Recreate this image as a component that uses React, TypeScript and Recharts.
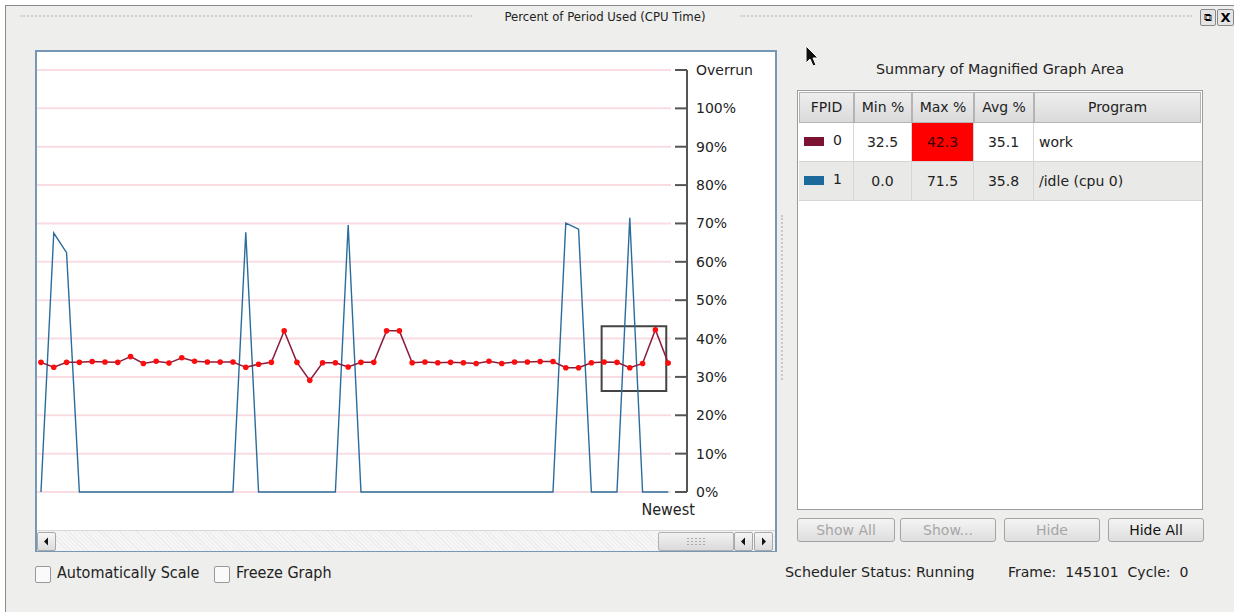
import { LineChart, Line, XAxis, YAxis, CartesianGrid, ReferenceArea } from "recharts";

// percent of period used, one sample per frame, oldest -> newest
const workPct = [
  33.8, 32.5, 33.8, 33.8, 34.0, 33.9, 33.8, 35.3, 33.5, 34.1,
  33.6, 35.0, 34.1, 33.9, 33.9, 33.9, 32.5, 33.3, 33.8, 42.0,
  33.8, 29.1, 33.7, 33.7, 32.6, 33.8, 33.8, 42.0, 42.0, 33.7,
  33.9, 33.7, 33.8, 33.7, 33.5, 34.1, 33.5, 33.9, 33.9, 34.0,
  34.0, 32.4, 32.4, 33.7, 33.9, 33.8, 32.4, 33.5, 42.3, 33.6,
];
const idlePct = [
  0, 67.5, 62.4, 0, 0, 0, 0, 0, 0, 0,
  0, 0, 0, 0, 0, 0, 67.7, 0, 0, 0,
  0, 0, 0, 0, 69.6, 0, 0, 0, 0, 0,
  0, 0, 0, 0, 0, 0, 0, 0, 0, 0,
  0, 70.1, 68.5, 0, 0, 0, 71.5, 0, 0, 0,
];
const yTicks = [0, 10, 20, 30, 40, 50, 60, 70, 80, 90, 100, 110];
const overrunTick = 110;
const newestTick = [49];
// magnified region (sample index / percent)
const magX = [43.8, 48.85];
const magY = [26.3, 43.2];

const summaryRows = [
  { fpid: "0", min: "32.5", max: "42.3", avg: "35.1", program: "work", color: "#7c1333", maxHot: true },
  { fpid: "1", min: "0.0", max: "71.5", avg: "35.8", program: "/idle (cpu 0)", color: "#1c6a9c", maxHot: false },
];
const colWidths = [55, 58, 62, 60, 167];
const headers = ["FPID", "Min %", "Max %", "Avg %", "Program"];

const data = workPct.map((w, i) => ({ idx: i, work: w, idle: idlePct[i] }));

const SANS = "'DejaVu Sans', Verdana, sans-serif";
const COND = "'DejaVu Sans Condensed', 'DejaVu Sans', sans-serif";

function PctTick(props: any) {
  const { x, y, payload } = props;
  const label = payload.value === overrunTick ? "Overrun" : `${payload.value}%`;
  return (
    <g>
      <line x1={x - 12} x2={x} y1={y} y2={y} stroke="#555" strokeWidth={2} />
      <text x={x + 9} y={y} dy="0.36em" fill="#222" fontSize={14} fontFamily={SANS} textAnchor="start">
        {label}
      </text>
    </g>
  );
}

const btn = (left: number, width: number, label: string, enabled: boolean) => (
  <div
    style={{
      position: "absolute", left, top: 518, width, height: 22,
      border: "1px solid #a4a4a4", borderRadius: 3,
      background: "linear-gradient(#f4f4f4, #dedede)",
      color: enabled ? "#111" : "#a6a6a6", fontSize: 14, fontFamily: SANS,
      textAlign: "center", lineHeight: "22px",
    }}
  >
    {label}
  </div>
);

const arrowBtn = (left: number, dir: "l" | "r") => (
  <div
    style={{
      position: "absolute", left, top: 1, width: 17, height: 17,
      border: "1px solid #a8a8a8", borderRadius: 2,
      background: "linear-gradient(#f6f6f6, #dcdcdc)",
    }}
  >
    <svg width={17} height={17} style={{ position: "absolute", left: 0, top: 0 }}>
      {dir === "l" ? <polygon points="6,8.5 10,4.5 10,12.5" fill="#111" /> : <polygon points="11,8.5 7,4.5 7,12.5" fill="#111" />}
    </svg>
  </div>
);

const cell = (w: number): any => ({ width: w, boxSizing: "border-box", flex: "none" });

export default function App() {
  return (
    <div style={{ position: "absolute", left: 0, top: 0, width: 1234, height: 612, background: "#fff", overflow: "hidden", fontFamily: SANS }}>
      {/* window */}
      <div style={{ position: "absolute", left: 5, top: 5, width: 1240, height: 620, background: "#eeeeec", borderLeft: "1px solid #8a8a8a", borderTop: "1px solid #8a8a8a" }} />
      {/* title bar */}
      <div style={{ position: "absolute", left: 20, top: 15, width: 452, height: 4, borderTop: "2px dotted #cfcfcf" }} />
      <div style={{ position: "absolute", left: 740, top: 15, width: 452, height: 4, borderTop: "2px dotted #cfcfcf" }} />
      <div style={{ position: "absolute", left: 455, top: 9, width: 300, textAlign: "center", fontSize: 13, fontFamily: COND, color: "#222" }}>
        Percent of Period Used (CPU Time)
      </div>
      <div style={{ position: "absolute", left: 1200, top: 9, width: 14, height: 15, border: "1px solid #888", borderRadius: 2, background: "#e4e4e4", fontSize: 11, textAlign: "center", lineHeight: "15px" }}>⧉</div>
      <div style={{ position: "absolute", left: 1217, top: 9, width: 15, height: 15, border: "1px solid #888", borderRadius: 2, background: "#e4e4e4", fontSize: 13, fontWeight: 700, textAlign: "center", lineHeight: "15px" }}>X</div>

      {/* graph frame */}
      <div style={{ position: "absolute", left: 35, top: 50, width: 738, height: 498, border: "2px solid #7896b6", background: "#fff" }}>
        <LineChart width={738} height={478} data={data} margin={{ top: 18, right: 0, bottom: 0, left: 0 }}>
          <CartesianGrid horizontal vertical={false} x={0} width={634} stroke="#f9dce1" strokeWidth={2} />
          <XAxis
            dataKey="idx"
            type="number"
            domain={[-0.31, 50.47]}
            allowDataOverflow
            ticks={newestTick}
            tickFormatter={() => "Newest"}
            axisLine={false}
            tickLine={false}
            tickSize={0}
            tickMargin={12}
            height={38}
            tick={{ fill: "#222", fontSize: 16, fontFamily: COND }}
          />
          <YAxis
            orientation="right"
            width={88}
            domain={[0, 110]}
            ticks={yTicks}
            interval={0}
            axisLine={{ stroke: "#555", strokeWidth: 2 }}
            tickLine={false}
            tickSize={0}
            tickMargin={0}
            tick={<PctTick />}
          />
          <Line dataKey="idle" stroke="#2a6d9c" strokeWidth={1.4} dot={false} isAnimationActive={false} />
          <Line
            dataKey="work"
            stroke="#8a1c3c"
            strokeWidth={1.5}
            dot={{ r: 2.8, fill: "#ff0d0d", stroke: "none" }}
            isAnimationActive={false}
          />
          <ReferenceArea x1={magX[0]} x2={magX[1]} y1={magY[0]} y2={magY[1]} fill="none" stroke="#444" strokeWidth={2} ifOverflow="visible" />
        </LineChart>
        {/* scrollbar */}
        <div style={{ position: "absolute", left: 0, top: 478, width: 738, height: 20, background: "repeating-linear-gradient(45deg, #ececec 0 1px, #f6f6f6 1px 3px)", borderTop: "1px solid #d8d8d8" }}>
          {arrowBtn(0, "l")}
          <div style={{ position: "absolute", left: 621, top: 1, width: 74, height: 17, border: "1px solid #b0b0b0", borderRadius: 2, background: "linear-gradient(#f2f2f2, #dadada)" }}>
            <div style={{ position: "absolute", left: 27, top: 4, width: 20, height: 9, backgroundImage: "radial-gradient(#a8a8a8 0.7px, transparent 0.8px)", backgroundSize: "4px 3px" }} />
          </div>
          {arrowBtn(697, "l")}
          {arrowBtn(717, "r")}
        </div>
      </div>

      {/* splitter grip */}
      <div style={{ position: "absolute", left: 781, top: 215, width: 1, height: 165, borderLeft: "2px dotted #c8c8c8" }} />

      {/* checkboxes */}
      <div style={{ position: "absolute", left: 35, top: 566, width: 14, height: 15, border: "1px solid #999", borderRadius: 2, background: "#fafafa" }} />
      <div style={{ position: "absolute", left: 57, top: 563, fontSize: 16, fontFamily: COND, color: "#222" }}>Automatically Scale</div>
      <div style={{ position: "absolute", left: 214, top: 566, width: 14, height: 15, border: "1px solid #999", borderRadius: 2, background: "#fafafa" }} />
      <div style={{ position: "absolute", left: 236, top: 563, fontSize: 16, fontFamily: COND, color: "#222" }}>Freeze Graph</div>

      {/* cursor */}
      <svg width={16} height={24} style={{ position: "absolute", left: 805, top: 45 }}>
        <polygon points="1,1 1,18 5,14 8,21 11,20 8,13 13,13" fill="#111" stroke="#fff" strokeWidth={1} />
      </svg>

      {/* summary */}
      <div style={{ position: "absolute", left: 797, top: 61, width: 406, textAlign: "center", fontSize: 14.3, color: "#222" }}>
        Summary of Magnified Graph Area
      </div>
      <div style={{ position: "absolute", left: 797, top: 90, width: 404, height: 418, border: "1px solid #9c9c9c", background: "#fff" }}>
        <div style={{ display: "flex", margin: "1px 0 0 1px", height: 31 }}>
          {headers.map((h, i) => (
            <div
              key={h}
              style={{
                ...cell(colWidths[i]), height: 31, border: "1px solid #b4b4b4",
                background: "linear-gradient(#eeeeee, #dadada)", textAlign: "center", lineHeight: "29px",
                fontSize: 14, color: "#222",
              }}
            >
              {h}
            </div>
          ))}
        </div>
        {summaryRows.map((r, ri) => (
          <div key={r.fpid} style={{ display: "flex", marginLeft: 1, height: 38, background: ri % 2 ? "#e9e9e7" : "#fff", borderBottom: "1px solid #d6d6d6" }}>
            <div style={{ ...cell(colWidths[0]), position: "relative", borderRight: "1px solid #d6d6d6", fontSize: 14, color: "#222" }}>
              <div style={{ position: "absolute", left: 5, top: 14, width: 20, height: 9, background: r.color }} />
              <div style={{ position: "absolute", left: 34, top: 9 }}>{r.fpid}</div>
            </div>
            {[r.min, r.max, r.avg].map((v, ci) => (
              <div
                key={ci}
                style={{
                  ...cell(colWidths[ci + 1]), textAlign: "center", lineHeight: "38px", fontSize: 14,
                  color: ci === 1 && r.maxHot ? "#3a0000" : "#222",
                  background: ci === 1 && r.maxHot ? "#ff0000" : "transparent",
                  borderRight: "1px solid #d6d6d6",
                }}
              >
                {v}
              </div>
            ))}
            <div style={{ flex: 1, paddingLeft: 5, lineHeight: "38px", fontSize: 14, color: "#222" }}>{r.program}</div>
          </div>
        ))}
      </div>

      {btn(797, 96, "Show All", false)}
      {btn(900, 94, "Show...", false)}
      {btn(1004, 94, "Hide", false)}
      {btn(1108, 94, "Hide All", true)}

      <div style={{ position: "absolute", left: 785, top: 564, fontSize: 14.3, color: "#222" }}>Scheduler Status: Running</div>
      <div style={{ position: "absolute", left: 1008, top: 564, fontSize: 14, color: "#222", whiteSpace: "pre" }}>Frame:  145101  Cycle:  0</div>
    </div>
  );
}
